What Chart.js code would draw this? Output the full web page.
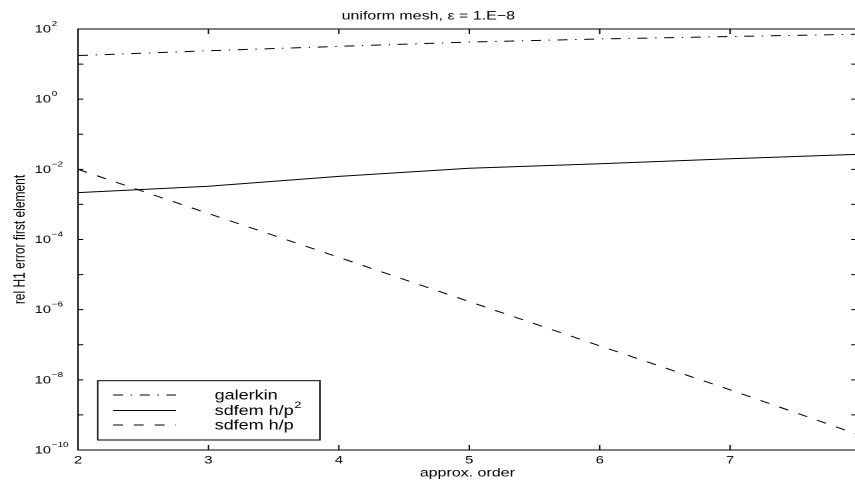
<!DOCTYPE html>
<html>
<head>
<meta charset="utf-8">
<title>uniform mesh</title>
<script src="https://cdn.jsdelivr.net/npm/chart.js@4.4.1/dist/chart.umd.min.js"></script>
<style>
  html, body { margin: 0; padding: 0; background: #fff; overflow: hidden; }
  /* figure is laid out at 4:3 and widened to the page */
  #figure { width: 645px; height: 481px; transform: scaleX(1.3333); transform-origin: 0 0; }
  #errChart { width: 645px !important; height: 481px !important; }
</style>
</head>
<body>
<div id="figure"><canvas id="errChart" width="645" height="481"></canvas></div>
<script>
(function () {
    "use strict";

    // approximation order p
    var orders = [2, 3, 4, 5, 6, 7, 8];

    // relative H1 error on the first element, eps = 1e-8
    var galerkin = [17.5, 24, 32, 42.5, 52, 61, 71];
    var sdfemHp2 = [2.16e-3, 3.3e-3, 6.3e-3, 1.07e-2, 1.44e-2, 2.0e-2, 2.7e-2];
    var sdfemHp  = [1.0e-2, 5.5e-4, 3.1e-5, 1.7e-6, 9.3e-8, 5.2e-9, 2.6e-10];

    // legend text, with the superscript part kept apart
    var seriesNames = ["galerkin", "sdfem h/p", "sdfem h/p"];
    var seriesSup   = ["", "2", ""];

    // axis ticks
    var xTicks = [2, 3, 4, 5, 6, 7];
    var yExponents = [2, 1, 0, -1, -2, -3, -4, -5, -6, -7, -8, -9, -10];
    var yLabelExponents = [2, 0, -2, -4, -6, -8, -10];

    var FONT = '"Liberation Sans", Arial, Helvetica, sans-serif';
    Chart.defaults.font.family = FONT;
    Chart.defaults.color = "#000";

    function points(values) {
        return orders.map(function (p, i) { return { x: p, y: values[i] }; });
    }

    function expText(e) {
        return e < 0 ? "\u2212" + (-e) : String(e);
    }

    // Box axes with inward ticks, 10^n labels and the boxed legend
    var axesFrame = {
        id: "axesFrame",
        afterDatasetsDraw: function (chart) {
            var ctx = chart.ctx, a = chart.chartArea;
            var xs = chart.scales.x, ys = chart.scales.y;
            ctx.save();
            ctx.strokeStyle = "#000";
            ctx.lineWidth = 1;
            ctx.setLineDash([]);
            ctx.strokeRect(a.left, a.top, a.right - a.left, a.bottom - a.top);

            ctx.beginPath();
            xTicks.forEach(function (v) {
                var px = xs.getPixelForValue(v);
                ctx.moveTo(px, a.bottom); ctx.lineTo(px, a.bottom - 5);
                ctx.moveTo(px, a.top); ctx.lineTo(px, a.top + 5);
            });
            yExponents.forEach(function (e) {
                var py = ys.getPixelForValue(Math.pow(10, e));
                ctx.moveTo(a.left, py); ctx.lineTo(a.left + 4, py);
                ctx.moveTo(a.right, py); ctx.lineTo(a.right - 4, py);
            });
            ctx.stroke();

            // y tick labels
            ctx.fillStyle = "#000";
            ctx.textAlign = "left";
            ctx.textBaseline = "middle";
            yLabelExponents.forEach(function (e) {
                var py = ys.getPixelForValue(Math.pow(10, e));
                ctx.font = "11px " + FONT;
                ctx.fillText("10", 26, py + 0.5);
                var w = ctx.measureText("10").width;
                ctx.font = "7.5px " + FONT;
                ctx.fillText(expText(e), 26 + w + 0.5, py - 5);
            });

            // legend
            var bx = a.left + 14.8, bw = 166.7, bh = 59.3;
            var by = a.bottom - 10 - bh;
            var rows = [14.3, 29.8, 44.3];
            ctx.fillStyle = "#fff";
            ctx.fillRect(bx, by, bw, bh);
            ctx.strokeRect(bx, by, bw, bh);
            chart.data.datasets.forEach(function (ds, i) {
                var y = by + rows[i];
                ctx.save();
                ctx.setLineDash(ds.borderDash || []);
                ctx.beginPath();
                ctx.moveTo(bx + 11.5, y);
                ctx.lineTo(bx + 58.7, y);
                ctx.stroke();
                ctx.restore();
                ctx.fillStyle = "#000";
                ctx.font = "13.5px " + FONT;
                ctx.fillText(seriesNames[i], bx + 87.7, y + 1);
                if (seriesSup[i]) {
                    var tw = ctx.measureText(seriesNames[i]).width;
                    ctx.font = "9.5px " + FONT;
                    ctx.fillText(seriesSup[i], bx + 87.7 + tw + 0.5, y - 5);
                }
            });
            ctx.restore();
        }
    };

    new Chart(document.getElementById("errChart"), {
        type: "line",
        data: {
            datasets: [
                { label: "galerkin", data: points(galerkin), borderDash: [7.5, 5.75, 1, 5.75] },
                { label: "sdfem h/p\u00b2", data: points(sdfemHp2) },
                { label: "sdfem h/p", data: points(sdfemHp), borderDash: [7.4, 8.2] }
            ]
        },
        plugins: [axesFrame],
        options: {
            responsive: false,
            animation: false,
            devicePixelRatio: 2,
            layout: { padding: { right: 2.5 } },
            elements: {
                line: { borderColor: "#000", borderWidth: 1, tension: 0, fill: false },
                point: { radius: 0, hoverRadius: 0 }
            },
            plugins: {
                legend: { display: false },
                tooltip: { enabled: false },
                title: {
                    display: true,
                    text: "uniform mesh, \u03b5 = 1.E\u22128",
                    color: "#000",
                    font: { size: 12, weight: "normal" },
                    padding: { top: 9, bottom: 5.6 }
                }
            },
            scales: {
                x: {
                    type: "linear",
                    min: 2,
                    max: 7.97,
                    afterBuildTicks: function (s) {
                        s.ticks = xTicks.map(function (v) { return { value: v }; });
                    },
                    afterFit: function (s) { s.height = 31; },
                    grid: { display: false, drawTicks: false },
                    border: { display: false },
                    ticks: { color: "#000", font: { size: 11 }, padding: 4, maxRotation: 0, autoSkip: false },
                    title: {
                        display: true,
                        text: "approx. order",
                        color: "#000",
                        font: { size: 12 },
                        padding: { top: 0, bottom: 0.5 }
                    }
                },
                y: {
                    type: "logarithmic",
                    min: 1e-10,
                    max: 100,
                    afterBuildTicks: function (s) {
                        s.ticks = yExponents.map(function (e) { return { value: Math.pow(10, e) }; });
                    },
                    afterFit: function (s) { s.width = 58.5; },
                    grid: { display: false, drawTicks: false },
                    border: { display: false },
                    ticks: { display: false },
                    title: {
                        display: true,
                        text: "rel H1 error first element",
                        color: "#000",
                        font: { size: 12 },
                        padding: { top: 7.8, bottom: 0 }
                    }
                }
            }
        }
    });
})();
</script>
</body>
</html>
